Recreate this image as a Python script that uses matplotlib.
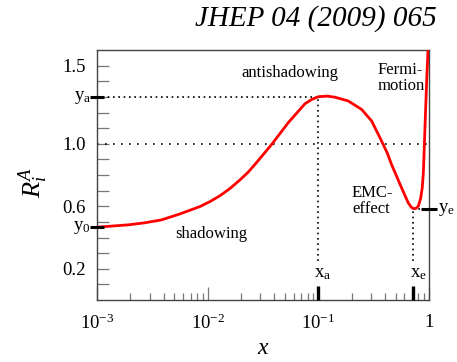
import matplotlib
matplotlib.use("Agg")
import matplotlib.pyplot as plt

plt.rcParams["font.family"] = ["Liberation Serif", "DejaVu Serif"]
plt.rcParams["mathtext.fontset"] = "custom"
plt.rcParams["mathtext.rm"] = "Liberation Serif"
plt.rcParams["mathtext.it"] = "Liberation Serif:italic"

# curve R_i^A(x)
x_vals = [0.001, 0.00192, 0.0027, 0.00384, 0.00562, 0.00851, 0.0105, 0.0129, 0.016,
          0.0196, 0.023, 0.0267, 0.0379, 0.0535, 0.0757, 0.088, 0.1, 0.12, 0.141,
          0.186, 0.246, 0.303, 0.373, 0.42, 0.459, 0.565, 0.649, 0.69, 0.72, 0.76,
          0.80, 0.84, 0.869, 0.89, 0.906, 0.93, 0.955, 0.98, 0.995]
r_vals = [0.466, 0.481, 0.494, 0.513, 0.551, 0.598, 0.63, 0.667, 0.715,
          0.769, 0.815, 0.867, 0.996, 1.135, 1.256, 1.285, 1.301, 1.305, 1.298,
          1.274, 1.22, 1.146, 1.017, 0.94, 0.867, 0.718, 0.622, 0.595, 0.585, 0.586,
          0.60, 0.65, 0.718, 0.82, 0.974, 1.2, 1.42, 1.6, 1.75]

x_a, y_a = 0.1, 1.30
x_e, y_e = 0.72, 0.585
y_0 = 0.466
drop_end = 0.25

y_ticks = [0.1, 0.2, 0.3, 0.4, 0.5, 0.6, 0.7, 0.8, 0.9, 1.0, 1.1, 1.2, 1.3, 1.4, 1.5]
y_tick_labels = ["", "0.2", "", "", "", "0.6", "", "", "", "1.0", "", "", "", "", "1.5"]
x_ticks = [1e-3, 1e-2, 1e-1, 1]
x_tick_labels = [r"$\mathregular{10^{-3}}$", r"$\mathregular{10^{-2}}$",
                 r"$\mathregular{10^{-1}}$", "1"]

W, H = 457, 362
L, R, T, B = 97, 429, 50, 300

fig = plt.figure(figsize=(W / 100, H / 100), dpi=100)
ax = fig.add_axes([L / W, 1 - B / H, (R - L) / W, (B - T) / H])

ax.set_xscale("log")
ax.set_xlim(1e-3, 1)
ax.set_ylim(0, 1.6)

dense = (0, (1, 2.2))
sparse = (0, (1, 3.8))
ax.plot([1e-3, 1], [1.0, 1.0], ls=sparse, color="k", lw=1.2, zorder=2)
ax.plot([1e-3, x_a], [y_a, y_a], ls=dense, color="k", lw=1.2, zorder=2)
ax.plot([x_a, x_a], [drop_end, y_a], ls=dense, color="k", lw=1.2, zorder=2)
ax.plot([x_e, x_e], [drop_end, y_e], ls=dense, color="k", lw=1.2, zorder=2)
ax.plot([x_e, 1], [y_e, y_e], ls=dense, color="k", lw=1.2, zorder=2)

ax.plot(x_vals, r_vals, color="#ff0000", lw=2, zorder=3)

for sp in ax.spines.values():
    sp.set_color("#444444")
    sp.set_linewidth(1)

ax.set_yticks(y_ticks)
ax.set_yticklabels(y_tick_labels)
ax.set_xticks(x_ticks)
ax.set_xticklabels(x_tick_labels)
ax.tick_params(axis="y", which="both", direction="in", length=8.6, width=0.9,
               color="#777777", pad=8, labelsize=13.5)
ax.tick_params(axis="x", which="major", direction="in", length=9.4, width=0.9,
               color="#777777", pad=10, labelsize=13.5)
ax.tick_params(axis="x", which="minor", direction="in", length=5, width=0.9,
               color="#777777")
ax.tick_params(top=False, right=False)

# marked points on the axes
mk = dict(color="k", clip_on=False, zorder=5)
ax.plot([1e-3], [y_a], marker="_", ms=10, mew=2.2, **mk)
ax.plot([1e-3], [y_0], marker="_", ms=10, mew=2.2, **mk)
ax.plot([1], [y_e], marker="_", ms=11, mew=2.2, **mk)
ax.plot([x_a], [0], marker=2, ms=10, mew=2.4, **mk)
ax.plot([x_e], [0], marker=2, ms=10, mew=2.4, **mk)

def px(x, y):
    return (x - L) / (R - L), (B - y) / (B - T)

kw = dict(transform=ax.transAxes, fontsize=13.5, clip_on=False)
ax.text(*px(91, 97), r"y$_\mathregular{a}$", ha="right", va="center", **kw)
ax.text(*px(91, 227), r"y$_\mathregular{0}$", ha="right", va="center", **kw)
ax.text(*px(438, 209), r"y$_\mathregular{e}$", ha="left", va="center", **kw)
ax.text(*px(323, 273), r"x$_\mathregular{a}$", ha="center", va="center", **kw)
ax.text(*px(418, 273), r"x$_\mathregular{e}$", ha="center", va="center", **kw)

tk = dict(transform=ax.transAxes, fontsize=12)
ax.text(*px(290, 73), "antishadowing", ha="center", va="center", **tk)
ax.text(*px(211, 234), "shadowing", ha="center", va="center", **tk)
ax.text(*px(378, 78), "Fermi-\nmotion", ha="left", va="center", linespacing=1.0, **tk)
ax.text(*px(352, 201), "EMC-\neffect", ha="left", va="center", linespacing=1.0, **tk)

fig.text(33 / W, 1 - 182 / H, r"$R_i^A$", rotation=90, ha="center", va="center", fontsize=19)
fig.text(263 / W, 1 - 349 / H, r"$x$", ha="center", va="center", fontsize=17)
fig.text(437 / W, 1 - 19 / H, "JHEP 04 (2009) 065", style="italic",
         ha="right", va="center", fontsize=21)

fig.savefig("out.png", dpi=100)
